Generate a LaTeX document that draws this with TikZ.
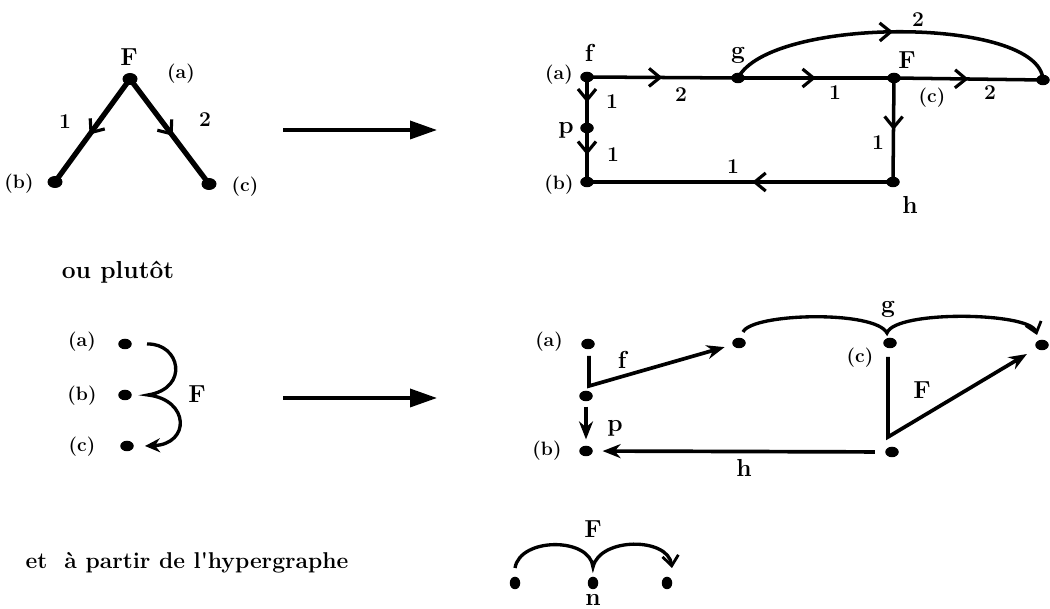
\documentclass[tikz,border=0pt]{standalone}
\usepackage{tikz}
\usetikzlibrary{positioning,arrows.meta,shapes.geometric,decorations.markings}

\begin{document}
\begin{tikzpicture}[x=0.2mm, y=-0.2mm,
  dot/.style={ellipse, fill, inner sep=0pt, minimum width=2.7mm, minimum height=2.1mm},
  dotv/.style={ellipse, fill, inner sep=0pt, minimum width=2.1mm, minimum height=2.5mm},
  lab/.style={font=\bfseries\fontsize{11}{12}\selectfont, inner sep=0pt},
  num/.style={font=\bfseries\fontsize{12}{13}\selectfont, inner sep=0pt},
  nm/.style={font=\bfseries\fontsize{14}{15}\selectfont, inner sep=0pt},
  txt/.style={font=\bfseries\fontsize{13}{15}\selectfont, inner sep=0pt},
  edge/.style={line width=2pt},
  midarr/.style={postaction={decorate}, decoration={markings,
      mark=at position #1 with {\arrow{Straight Barb[length=2.2mm, width=3.6mm, line width=1.8pt]}}}},
  midarr/.default=0.5,
  bigarr/.style={line width=2pt, -{Triangle[length=5.4mm, width=3.6mm]}},
  harr/.style={line width=2.1pt, -{Stealth[length=3.6mm, width=2.8mm]}},
  hyp/.style={line width=1.9pt},
  barb/.style={-{Straight Barb[length=2mm, width=3.2mm, line width=1.6pt]}}]
\useasboundingbox (0,0) rectangle (1050,609);

% the hyperarc F, first form
\node[dot, minimum width=3mm, minimum height=2.4mm] (ta) at (130,79) {};
\node[dot, minimum width=3mm, minimum height=2.4mm] (tb) at (55,182) {};
\node[dot, minimum width=3mm, minimum height=2.4mm] (tc) at (209,184) {};
\node[nm] (tF) at (129,57) {F};
\node[lab] (tla) at (181,74) {(a)};
\node[lab] (tlb) at (19,184) {(b)};
\node[lab] (tlc) at (245,187) {(c)};
\node[num] (t1) at (65,122) {1};
\node[num] (t2) at (205,120) {2};
\draw[edge, line width=3pt, midarr=.54] (ta.center) -- (tb.center);
\draw[edge, line width=3pt, midarr=.54] (ta.center) -- (tc.center);

\coordinate (s1) at (283,130);
\coordinate (e1) at (437,130);
\draw[bigarr] (s1) -- (e1);

% its unfolding
\node[dot] (f) at (587,77) {};
\node[dot] (g) at (738,78) {};
\node[dot] (F) at (894,78) {};
\node[dot] (e) at (1043,80) {};
\node[dot] (p) at (587,128) {};
\node[dot] (b) at (587,182) {};
\node[dot] (h) at (893,182) {};
\draw[edge, midarr] (f.center) -- (g.center);
\draw[edge, midarr] (g.center) -- (F.center);
\draw[edge, midarr] (F.center) -- (e.center);
\draw[edge, midarr] (f.center) -- (p.center);
\draw[edge, midarr] (p.center) -- (b.center);
\draw[edge, midarr] (F.center) -- (h.center);
\draw[edge, midarr=.46] (h.center) -- (b.center);
\draw[edge, midarr] (g.center) .. controls (770,16) and (1040,16) .. (e.center);
\node[lab] (la) at (559,75) {(a)};
\node[nm] (lf) at (589,53) {f};
\node[nm] (lg) at (738,55) {g};
\node[nm] (lF) at (907,60) {F};
\node[lab] (lc) at (932,98) {(c)};
\node[nm] (lp) at (566,130) {p};
\node[lab] (lb) at (559,185) {(b)};
\node[nm] (lh) at (910,205) {h};
\node[num] (n1) at (681,95) {2};
\node[num] (n2) at (835,93) {1};
\node[num] (n3) at (990,93) {2};
\node[num] (n4) at (918,20) {2};
\node[num] (n5) at (612,102) {1};
\node[num] (n6) at (613,155) {1};
\node[num] (n7) at (878,143) {1};
\node[num] (n8) at (733,167) {1};

\node[txt, font=\bfseries\fontsize{14}{15}\selectfont] (ou) at (118,272) {ou plutôt};

% second form
\node[dot] (a2) at (125,344) {};
\node[dot] (b2) at (125,395) {};
\node[dot] (c2) at (127,446) {};
\node[lab] (la2) at (82,342) {(a)};
\node[lab] (lb2) at (82,396) {(b)};
\node[lab] (lc2) at (82,447) {(c)};
\node[nm] (lF2) at (197,394) {F};
\draw[hyp, -{Stealth[length=3mm, width=2.8mm]}] ([xshift=4.4mm]a2.center)
  .. controls +(33,-1) and +(42,-7) .. ([xshift=4.6mm]b2.center)
  .. controls +(42,5) and +(45,-2) .. ([xshift=3.6mm]c2.center);

\coordinate (s2) at (283,398);
\coordinate (e2) at (437,398);
\draw[bigarr] (s2) -- (e2);

\node[dot] (a3) at (588,344) {};
\node[dot] (q3) at (586,396) {};
\node[dot] (b3) at (586,451) {};
\node[dot] (g3) at (739,343) {};
\node[dot] (c3) at (890,343) {};
\node[dot] (e3) at (1042,345) {};
\node[dot] (h3) at (892,452) {};
\draw[harr, shorten >=1.6mm] ([xshift=0.2mm, yshift=-2.4mm]a3.center)
  -- ([xshift=0.6mm, yshift=2mm]q3.center) -- (g3);
\draw[harr, shorten <=1mm, shorten >=1.2mm] (q3) -- (b3);
\draw[harr, shorten >=2.2mm] ([xshift=-0.4mm, yshift=-2.8mm]c3.center)
  -- ([xshift=-0.8mm, yshift=3mm]h3.center) -- (e3);
\draw[harr, shorten <=2mm, shorten >=1.9mm] (h3) -- (b3);
\draw[hyp, barb] ([xshift=0.8mm, yshift=2.2mm]g3.center)
  .. controls +(9,-19) and +(-12,-23) .. ([xshift=-0.6mm, yshift=2mm]c3.center)
  .. controls +(8,-23) and +(-7,-23) .. ([xshift=-1mm, yshift=2mm]e3.center);
\node[lab] (la3) at (549,342) {(a)};
\node[lab] (lb3) at (547,451) {(b)};
\node[nm] (lf3) at (622,360) {f};
\node[nm] (lp3) at (615,428) {p};
\node[nm] (lg3) at (888,309) {g};
\node[lab] (lc3) at (860,358) {(c)};
\node[nm] (lF3) at (922,390) {F};
\node[nm] (lh3) at (744,468) {h};

% from the hypergraph
\node[txt] (hy) at (187,563) {et \ à partir de l\textquotesingle hypergraphe};
\node[dotv] (m1) at (515,583) {};
\node[dotv] (m2) at (593,583) {};
\node[dotv] (m3) at (667,583) {};
\node[nm] (lF4) at (593,529) {F};
\node[nm] (ln4) at (593,600) {n};
\draw[hyp, barb] ([yshift=3mm]m1.center)
  .. controls +(5,-31) and +(-3,-30) .. ([yshift=3.2mm]m2.center)
  .. controls +(7,-30) and +(-4,-31) .. ([xshift=1mm, yshift=3mm]m3.center);
\end{tikzpicture}
\end{document}
